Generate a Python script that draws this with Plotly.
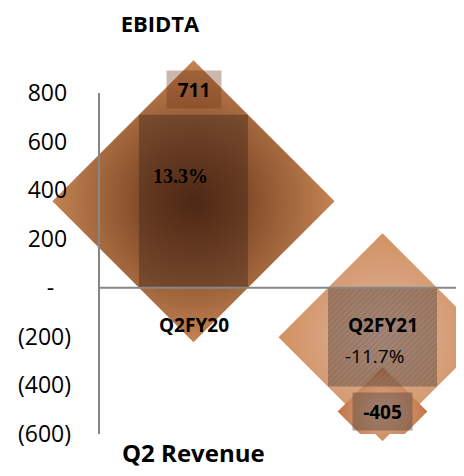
import plotly.graph_objects as go

# ---- data ----
categories = ["Q2FY20", "Q2FY21"]
ebitda = [711, -405]
margin_labels = ["13.3%", "-11.7%"]
y_tick_vals = [800, 600, 400, 200, 0, -200, -400, -600]
y_tick_text = ["800\u2009", "600\u2009", "400\u2009", "200\u2009", "-\u2007\u2009", "(200)", "(400)", "(600)"]

# ---- style ----
# page body has an 8px margin; figure is laid out in its own coordinates
W, H = 456, 460
ML, MR, MT, MB = 91, 0, 85, 34
YMIN, YMAX = -600, 800
px_per_unit = (H - MT - MB) / (YMAX - YMIN)
LABEL_PX = 25  # value label box sits 25px beyond the bar end
label_off = LABEL_PX / px_per_unit

big_sizes = [217, 160]
big_edge = ["#C48352", "#D29160"]
big_center = ["#5A2A10", "#DDB6A4"]
small_sizes = [0, 69]
bar_colors = ["rgba(60,30,15,0.38)", "rgba(95,75,65,0.45)"]
box_colors = ["rgba(110,50,20,0.35)", "rgba(95,75,65,0.5)"]
FONT = "Open Sans"
AXIS_GREY = "#878787"

idx = list(range(len(categories)))
label_y = [v + (label_off if v >= 0 else -label_off) for v in ebitda]

fig = go.Figure()

# big diamonds centred on the middle of each bar
for i in idx:
    fig.add_trace(go.Scatter(
        x=[categories[i]], y=[ebitda[i] / 2], mode="markers",
        marker=dict(symbol="diamond", size=big_sizes[i], color=big_edge[i],
                    gradient=dict(type="radial", color=big_center[i]),
                    line=dict(width=0)),
        cliponaxis=False, hoverinfo="skip", showlegend=False, zorder=0))

# small diamonds around value labels
for i in idx:
    if small_sizes[i] > 0:
        fig.add_trace(go.Scatter(
            x=[categories[i]], y=[label_y[i]], mode="markers",
            marker=dict(symbol="diamond", size=small_sizes[i], color="#C27443",
                        gradient=dict(type="radial", color="#DDB49E"),
                        line=dict(width=0)),
            cliponaxis=False, hoverinfo="skip", showlegend=False, zorder=1))

# translucent bars
fig.add_trace(go.Bar(
    x=categories, y=ebitda, width=0.577,
    marker=dict(color=bar_colors, line=dict(width=0),
                pattern=dict(shape="/", fgcolor="#F2D2B2", fgopacity=0.22,
                             size=4, solidity=0.3)),
    hoverinfo="skip", showlegend=False, zorder=2))

# value labels with boxes
for i in idx:
    fig.add_annotation(x=categories[i], y=ebitda[i], text=f"<b>{ebitda[i]}</b>",
                       yshift=LABEL_PX if ebitda[i] >= 0 else -LABEL_PX,
                       showarrow=False, width=52 if ebitda[i] >= 0 else 57, height=35,
                       bgcolor=box_colors[i],
                       font=dict(family=FONT, size=19, color="black"))

# margin labels
margin_shift = [25, -19]
margin_xshift = [-13, -8]
margin_fonts = [dict(family="Liberation Serif", size=20, color="black"),
                dict(family=FONT, size=19, color="black")]
margin_txt = [f"<b>{margin_labels[0]}</b>", margin_labels[1]]
for i in idx:
    fig.add_annotation(x=categories[i], y=ebitda[i] / 2, text=margin_txt[i],
                       showarrow=False, yshift=margin_shift[i], xshift=margin_xshift[i],
                       font=margin_fonts[i])

# category labels below zero line
for i in idx:
    fig.add_annotation(x=categories[i], y=0, text=f"<b>{categories[i]}</b>",
                       showarrow=False, yshift=-37,
                       font=dict(family=FONT, size=19, color="black"))

# axis title
fig.add_annotation(xref="paper", yref="paper", x=(185 - ML) / (W - ML - MR), y=0,
                   xanchor="center", yanchor="middle",
                   yshift=-18, text="<b>Q2 Revenue</b>", showarrow=False,
                   font=dict(family=FONT, size=24, color="black"))

# axis lines on top of the marks
fig.add_shape(type="line", xref="paper", x0=0, x1=1, yref="y", y0=0, y1=0,
              line=dict(color=AXIS_GREY, width=2), layer="above")
fig.add_shape(type="line", xref="paper", x0=0, x1=0, yref="paper", y0=0, y1=1,
              line=dict(color=AXIS_GREY, width=2), layer="above")

fig.update_layout(
    width=W, height=H,
    margin=dict(l=ML, r=MR, t=MT, b=MB, pad=0),
    paper_bgcolor="white", plot_bgcolor="rgba(0,0,0,0)",
    title=dict(text="<b>EBIDTA</b>", x=152 / W, xanchor="center",
               y=1 - 16 / H, yanchor="middle", xref="container", yref="container",
               font=dict(family=FONT, size=22, color="black")),
    font=dict(family=FONT),
    barmode="overlay",
    xaxis=dict(type="category", range=[-0.5, (W - MR - (193.5 - 8)) / 189],
               showline=False, showgrid=False, zeroline=False,
               showticklabels=False, ticks=""),
    yaxis=dict(range=[YMIN, YMAX], tickvals=y_tick_vals, ticktext=y_tick_text,
               showgrid=False, zeroline=False, showline=False, ticks="",
               ticklabelstandoff=27,
               tickfont=dict(family=FONT, size=23, color="black")),
)

fig.write_html("out.html")
